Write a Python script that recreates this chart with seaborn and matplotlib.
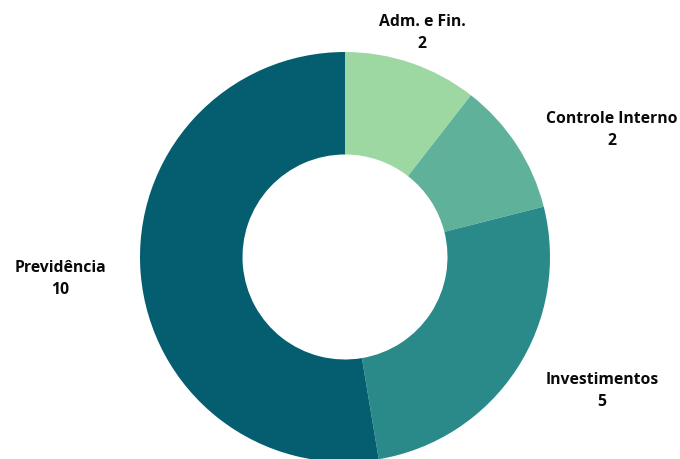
import matplotlib
matplotlib.use("Agg")
import matplotlib.pyplot as plt
import seaborn as sns

categories = ["Adm. e Fin.", "Controle Interno", "Investimentos", "Previdência"]
values = [2, 2, 5, 10]
colors = ["#9dd8a2", "#5fb199", "#2a8a8a", "#045e70"]

sns.set_theme(style="white")
plt.rcParams["font.family"] = ["Open Sans", "DejaVu Sans"]

W, H = 680, 459
R = 205.0
cx, cy = 345, 257
fig = plt.figure(figsize=(W / 100, H / 100), dpi=100)
ax = fig.add_axes([0, 0, 1, 1])

ax.pie(values, colors=colors, startangle=90, counterclock=False,
       radius=1.0, wedgeprops=dict(width=0.5, linewidth=0))

ax.set_xlim(-cx / R, (W - cx) / R)
ax.set_ylim(-(H - cy) / R, cy / R)
ax.set_aspect("equal")
ax.axis("off")

label_pos = [(0.376, 1.093), (1.302, 0.620), (1.254, -0.654), (-1.390, -0.107)]
for (x, y), name, v in zip(label_pos, categories, values):
    ax.text(x, y, f"{name}\n{v}", ha="center", va="center", fontsize=11.3,
            fontweight="bold", color="#0a0a0a", linespacing=1.5)

fig.savefig("out.png", dpi=100)
